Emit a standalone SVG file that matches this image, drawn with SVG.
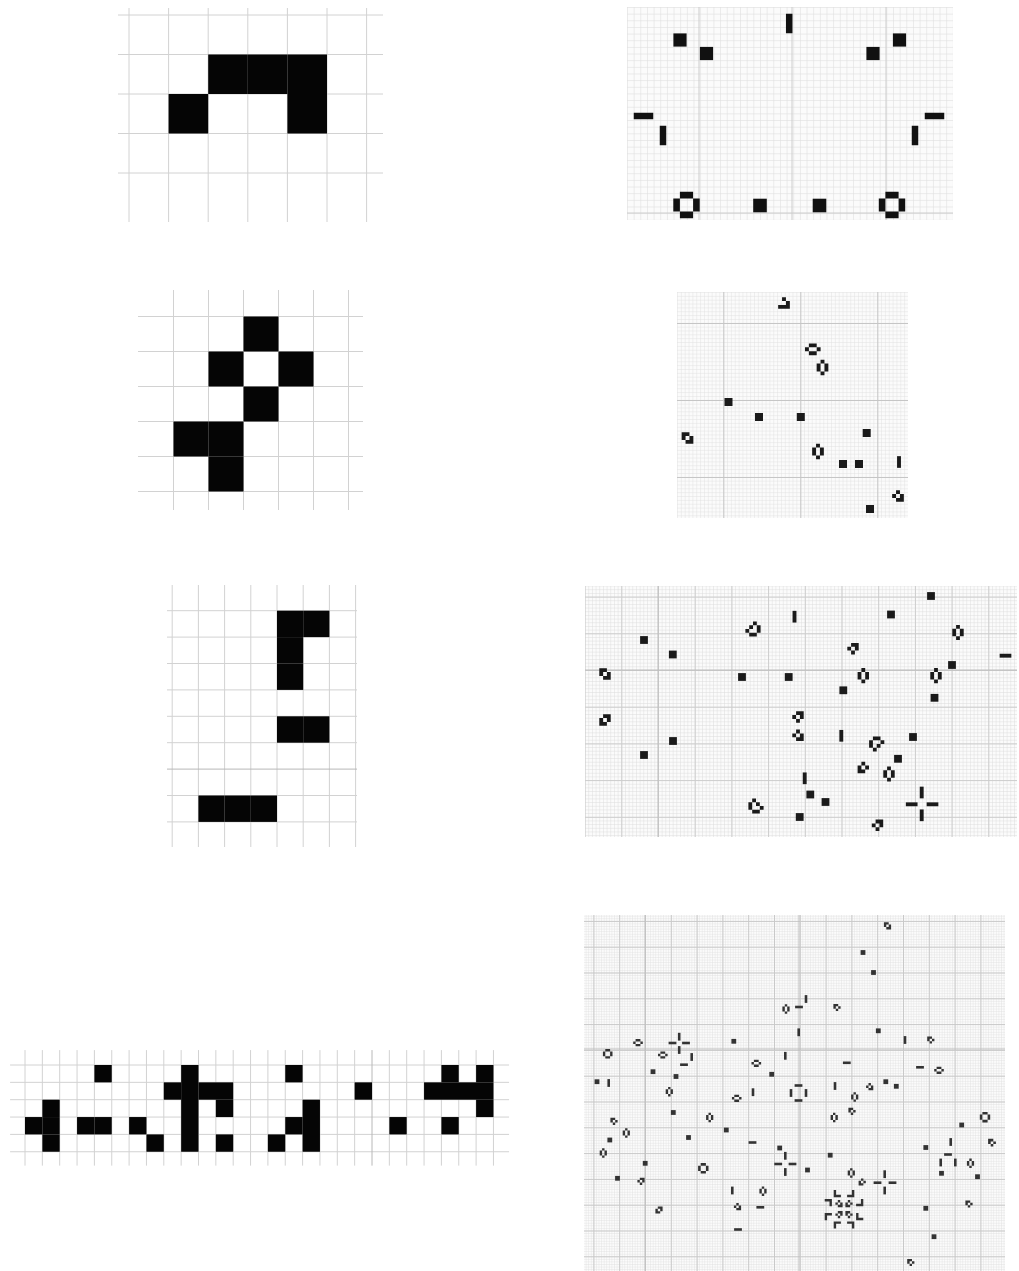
<svg xmlns="http://www.w3.org/2000/svg" xmlns:xlink="http://www.w3.org/1999/xlink" width="1019" height="1271" viewBox="0 0 1019 1271">
<style>
.gl{stroke:#d2d2d2;stroke-width:1;fill:none;vector-effect:non-scaling-stroke}
.gd{stroke:#b8b8b8;stroke-width:1;fill:none;vector-effect:non-scaling-stroke}
.cell{fill:#050505}
.bgp{fill:#fbfbfb}
.r1 use{fill:#111}
.r2 use{fill:#1a1a1a}
.r3 use{fill:#1a1a1a}
.r4 use{fill:#333}
</style>
<defs>
<path id="bk" d="M-1 -1h2v2h-2z"/>
<path id="bv" d="M-0.5 -1.5h1v3h-1z"/>
<path id="bh" d="M-1.5 -0.5h3v1h-3z"/>
<path id="hh" d="M-1 -1.5h2v1h-2zM-2 -0.5h1v1h-1zM1 -0.5h1v1h-1zM-1 0.5h2v1h-2z"/>
<path id="hv" d="M-0.5 -2h1v1h-1zM-1.5 -1h1v2h-1zM0.5 -1h1v2h-1zM-0.5 1h1v1h-1z"/>
<path id="pd" d="M-1 -2h2v1h-2zM-2 -1h1v2h-1zM1 -1h1v2h-1zM-1 1h2v1h-2z"/>
<path id="bt" d="M-1.5 -1.5h2v1h-2zM-1.5 -0.5h1v1h-1zM0.5 -0.5h1v1h-1zM-0.5 0.5h1v1h-1z"/>
<path id="gd" d="M-0.5 -1.5h1v1h-1zM0.5 -0.5h1v1h-1zM-1.5 0.5h3v1h-3z"/>
<path id="lf" d="M-1 -2h2v1h-2zM-2 -1h1v1h-1zM1 -1h1v2h-1zM-1 0h1v1h-1zM0 1h1v1h-1z"/>
<path id="sh" d="M-1.5 -1.5h2v1h-2zM-1.5 -0.5h1v1h-1zM0.5 -0.5h1v1h-1zM-0.5 0.5h2v1h-2z"/>
<path id="ll" d="M-1.5 -1.5h1v3h-1zM-0.5 0.5h2v1h-2z"/>
<pattern id="p1" x="627" y="7" width="6.65" height="6.65" patternUnits="userSpaceOnUse"><path d="M0 0.35H6.65M0.35 0V6.65" stroke="#dedede" stroke-width="0.7" fill="none"/></pattern>
<pattern id="p2" x="677" y="292" width="3.85" height="3.85" patternUnits="userSpaceOnUse"><path d="M0 0.3H3.85M0.3 0V3.85" stroke="#e0e0e0" stroke-width="0.6" fill="none"/></pattern>
<pattern id="m2" x="723.3" y="400" width="77" height="77" patternUnits="userSpaceOnUse"><path d="M0 0.5H77M0.5 0V77" stroke="#c6c6c6" stroke-width="1" fill="none"/></pattern>
<pattern id="p3" x="584.6" y="596.6" width="3.67" height="3.67" patternUnits="userSpaceOnUse"><path d="M0 0.3H3.67M0.3 0V3.67" stroke="#dddddd" stroke-width="0.6" fill="none"/></pattern>
<pattern id="m3" x="584.6" y="596.6" width="36.7" height="36.7" patternUnits="userSpaceOnUse"><path d="M0 0.5H36.7M0.5 0V36.7" stroke="#cdcdcd" stroke-width="1" fill="none"/></pattern>
<pattern id="p4" x="593.4" y="920.9" width="2.58" height="2.58" patternUnits="userSpaceOnUse"><path d="M0 0.25H2.58M0.25 0V2.58" stroke="#dcdcdc" stroke-width="0.5" fill="none"/></pattern>
<pattern id="m4" x="593.4" y="920.9" width="25.8" height="25.8" patternUnits="userSpaceOnUse"><path d="M0 0.5H25.8M0.5 0V25.8" stroke="#c9c9c9" stroke-width="1" fill="none"/></pattern>
</defs>
<rect width="1019" height="1271" fill="#ffffff"/>

<!-- Left panel 1 -->
<g id="left1">
<path class="gl" d="M118 15H383M118 54.5H383M118 94H383M118 133.5H383M118 173H383M129 8V222M168.6 8V222M208.2 8V222M247.8 8V222M287.4 8V222M327 8V222M366.6 8V222"/>
<g transform="translate(129 15) scale(39.6 39.5)" class="cell">
<rect x="2" y="1" width="1" height="1"/><rect x="3" y="1" width="1" height="1"/><rect x="4" y="1" width="1" height="1"/>
<rect x="1" y="2" width="1" height="1"/><rect x="4" y="2" width="1" height="1"/>
</g>
</g>

<!-- Left panel 2 -->
<g id="left2">
<path class="gl" d="M138 316.5H363M138 351.5H363M138 386.5H363M138 421.5H363M138 456.5H363M138 491.5H363M173.5 290V510M208.5 290V510M243.5 290V510M278.5 290V510M313.5 290V510M348.5 290V510"/>
<g transform="translate(173.5 316.5) scale(35)" class="cell">
<rect x="2" y="0" width="1" height="1"/><rect x="1" y="1" width="1" height="1"/><rect x="3" y="1" width="1" height="1"/>
<rect x="2" y="2" width="1" height="1"/><rect x="0" y="3" width="1" height="1"/><rect x="1" y="3" width="1" height="1"/>
<rect x="1" y="4" width="1" height="1"/>
</g>
</g>

<!-- Left panel 3 -->
<g id="left3">
<path class="gl" d="M167 610.7H357M167 637.1H357M167 663.5H357M167 689.9H357M167 716.3H357M167 742.7H357M167 795.5H357M167 821.9H357M172.2 585V847M198.4 585V847M224.6 585V847M250.8 585V847M277 585V847M303.2 585V847M329.4 585V847M355.6 585V847"/>
<path class="gd" d="M167 769.1H357"/>
<g transform="translate(172.2 610.7) scale(26.2 26.4)" class="cell">
<rect x="4" y="0" width="1" height="1"/><rect x="5" y="0" width="1" height="1"/>
<rect x="4" y="1" width="1" height="1"/><rect x="4" y="2" width="1" height="1"/>
<rect x="4" y="4" width="1" height="1"/><rect x="5" y="4" width="1" height="1"/>
<rect x="1" y="7" width="1" height="1"/><rect x="2" y="7" width="1" height="1"/><rect x="3" y="7" width="1" height="1"/>
</g>
</g>

<!-- Left panel 4 -->
<g id="left4">
<g transform="translate(25 1065) scale(17.35)">
<path class="gl" d="M-0.86 0H27.9M-0.86 1H27.9M-0.86 2H27.9M-0.86 3H27.9M-0.86 4H27.9M-0.86 5H27.9
M0 -0.86V5.8M1 -0.86V5.8M2 -0.86V5.8M3 -0.86V5.8M4 -0.86V5.8M5 -0.86V5.8M6 -0.86V5.8M7 -0.86V5.8M8 -0.86V5.8M9 -0.86V5.8M10 -0.86V5.8M11 -0.86V5.8M12 -0.86V5.8M13 -0.86V5.8M14 -0.86V5.8M15 -0.86V5.8M16 -0.86V5.8M17 -0.86V5.8M18 -0.86V5.8M19 -0.86V5.8M21 -0.86V5.8M22 -0.86V5.8M23 -0.86V5.8M24 -0.86V5.8M25 -0.86V5.8M26 -0.86V5.8M27 -0.86V5.8"/>
<path class="gd" d="M20 -0.86V5.8"/>
<g class="cell">
<rect x="1" y="2" width="1" height="1"/><rect x="0" y="3" width="1" height="1"/><rect x="1" y="3" width="1" height="1"/><rect x="1" y="4" width="1" height="1"/>
<rect x="4" y="0" width="1" height="1"/><rect x="3" y="3" width="1" height="1"/><rect x="4" y="3" width="1" height="1"/>
<rect x="6" y="3" width="1" height="1"/><rect x="7" y="4" width="1" height="1"/>
<rect x="9" y="0" width="1" height="5"/><rect x="8" y="1" width="1" height="1"/><rect x="10" y="1" width="2" height="1"/>
<rect x="11" y="2" width="1" height="1"/><rect x="11" y="4" width="1" height="1"/>
<rect x="15" y="0" width="1" height="1"/><rect x="16" y="2" width="1" height="3"/><rect x="15" y="3" width="1" height="1"/><rect x="14" y="4" width="1" height="1"/>
<rect x="19" y="1" width="1" height="1"/><rect x="21" y="3" width="1" height="1"/>
<rect x="24" y="0" width="1" height="1"/><rect x="26" y="0" width="1" height="1"/><rect x="23" y="1" width="4" height="1"/>
<rect x="26" y="2" width="1" height="1"/><rect x="24" y="3" width="1" height="1"/>
</g>
</g>
</g>

<!-- Right panel 1 -->
<g id="right1" class="r1">
<rect class="bgp" x="627" y="7" width="326" height="213"/>
<rect x="627" y="7" width="326" height="213" fill="url(#p1)"/>
<path d="M699 7V220M792 7V220M886 7V220M627 213H953" stroke="#cccccc" stroke-width="1" fill="none"/>
<use href="#bv" transform="translate(789.2 23.5) scale(6.5)"/>
<use href="#bk" transform="translate(680 40) scale(6.6)"/>
<use href="#bk" transform="translate(706.5 53.5) scale(6.6)"/>
<use href="#bk" transform="translate(873 53.5) scale(6.6)"/>
<use href="#bk" transform="translate(899.5 40) scale(6.6)"/>
<use href="#bh" transform="translate(643.5 116) scale(6.5)"/>
<use href="#bv" transform="translate(663 135.5) scale(6.5)"/>
<use href="#bh" transform="translate(934.5 116) scale(6.5)"/>
<use href="#bv" transform="translate(915 135.5) scale(6.5)"/>
<use href="#pd" transform="translate(686.5 205) scale(6.6)"/>
<use href="#pd" transform="translate(892 205) scale(6.6)"/>
<use href="#bk" transform="translate(760 205.5) scale(6.8)"/>
<use href="#bk" transform="translate(819.5 205.5) scale(6.8)"/>
</g>

<!-- Right panel 2 -->
<g id="right2" class="r2">
<rect class="bgp" x="677" y="292" width="231" height="226"/>
<rect x="677" y="292" width="231" height="226" fill="url(#p2)"/>
<rect x="677" y="292" width="231" height="226" fill="url(#m2)"/>
<use href="#gd" transform="translate(784 303) scale(3.9)"/>
<use href="#hh" transform="translate(812.8 349.3) scale(3.9)"/>
<use href="#hv" transform="translate(822.5 367.5) scale(3.9)"/>
<use href="#bk" transform="translate(728.5 402) scale(4)"/>
<use href="#bk" transform="translate(759 417) scale(4)"/>
<use href="#bk" transform="translate(800.8 417) scale(4)"/>
<use href="#bk" transform="translate(866.7 433) scale(4)"/>
<use href="#bk" transform="translate(843 464) scale(4)"/>
<use href="#bk" transform="translate(859 464) scale(4)"/>
<use href="#bk" transform="translate(870 509) scale(4)"/>
<use href="#sh" transform="translate(687.5 438) scale(3.9)"/>
<use href="#hv" transform="translate(818 451.5) scale(3.9)"/>
<use href="#bv" transform="translate(899 462) scale(3.9)"/>
<use href="#bt" transform="translate(898 496) rotate(180) scale(3.9)"/>
</g>

<!-- Right panel 3 -->
<g id="right3" class="r3">
<rect class="bgp" x="585" y="586" width="432" height="251"/>
<rect x="585" y="586" width="432" height="251" fill="url(#p3)"/>
<rect x="585" y="586" width="432" height="251" fill="url(#m3)"/>
<path d="M658 586V837M585 670H1017" stroke="#bdbdbd" stroke-width="1" fill="none"/>
<use href="#bk" transform="translate(644 640) scale(3.9)"/>
<use href="#bk" transform="translate(672.8 654.5) scale(3.9)"/>
<use href="#bk" transform="translate(742 677) scale(3.9)"/>
<use href="#bk" transform="translate(788.7 677) scale(3.9)"/>
<use href="#bk" transform="translate(673 741) scale(3.9)"/>
<use href="#bk" transform="translate(644 755) scale(3.9)"/>
<use href="#bk" transform="translate(931 596) scale(3.9)"/>
<use href="#bk" transform="translate(891 614.5) scale(3.9)"/>
<use href="#bk" transform="translate(952 665) scale(3.9)"/>
<use href="#bk" transform="translate(843.3 690.3) scale(3.9)"/>
<use href="#bk" transform="translate(934.5 697.8) scale(3.9)"/>
<use href="#bk" transform="translate(913 737) scale(3.9)"/>
<use href="#bk" transform="translate(898 758.8) scale(3.9)"/>
<use href="#bk" transform="translate(810.3 794.5) scale(3.9)"/>
<use href="#bk" transform="translate(825.5 802) scale(3.9)"/>
<use href="#bk" transform="translate(799.7 817) scale(3.9)"/>
<use href="#sh" transform="translate(605 674) scale(3.8)"/>
<use href="#sh" transform="translate(605 720) rotate(90) scale(3.8)"/>
<use href="#lf" transform="translate(753 629) rotate(90) scale(3.8)"/>
<use href="#bt" transform="translate(853 648.7) rotate(90) scale(3.8)"/>
<use href="#bt" transform="translate(798 717) rotate(90) scale(3.8)"/>
<use href="#bt" transform="translate(798 735.3) rotate(180) scale(3.8)"/>
<use href="#bt" transform="translate(863.3 767.5) rotate(-90) scale(3.8)"/>
<use href="#bt" transform="translate(877.5 825.3) rotate(90) scale(3.8)"/>
<use href="#lf" transform="translate(756 806) rotate(180) scale(3.8)"/>
<use href="#lf" transform="translate(876.7 744) rotate(-90) scale(3.8)"/>
<use href="#hv" transform="translate(958 632.5) scale(3.8)"/>
<use href="#hv" transform="translate(863.3 675.7) scale(3.8)"/>
<use href="#hv" transform="translate(936 675.7) scale(3.8)"/>
<use href="#hv" transform="translate(889 774) scale(3.8)"/>
<use href="#bv" transform="translate(794.5 616.7) scale(3.9)"/>
<use href="#bv" transform="translate(841.3 735.8) scale(3.9)"/>
<use href="#bv" transform="translate(804.7 778.3) scale(3.9)"/>
<use href="#bv" transform="translate(921.7 792.5) scale(3.9)"/>
<use href="#bv" transform="translate(921.7 815.3) scale(3.9)"/>
<use href="#bh" transform="translate(1005.5 655.7) scale(3.9)"/>
<use href="#bh" transform="translate(911.7 804.3) scale(3.9)"/>
<use href="#bh" transform="translate(932.5 804.3) scale(3.9)"/>
</g>

<!-- Right panel 4 -->
<g id="right4" class="r4">
<rect class="bgp" x="584" y="915" width="421" height="356"/>
<rect x="584" y="915" width="421" height="356" fill="url(#p4)"/>
<rect x="584" y="915" width="421" height="356" fill="url(#m4)"/>
<path d="M645 915V1271M799 915V1271M584 1049H1005" stroke="#bdbdbd" stroke-width="1" fill="none"/>
<!-- blocks -->
<use href="#bk" transform="translate(733.8 1041.3) scale(2.4)"/>
<use href="#bk" transform="translate(771.7 1074.3) scale(2.4)"/>
<use href="#bk" transform="translate(653 1071.7) scale(2.4)"/>
<use href="#bk" transform="translate(676 1076.5) scale(2.4)"/>
<use href="#bk" transform="translate(597 1081.7) scale(2.4)"/>
<use href="#bk" transform="translate(863 952.5) scale(2.4)"/>
<use href="#bk" transform="translate(873.5 972.5) scale(2.4)"/>
<use href="#bk" transform="translate(878.3 1030.8) scale(2.4)"/>
<use href="#bk" transform="translate(885.8 1081.7) scale(2.4)"/>
<use href="#bk" transform="translate(896.3 1086.3) scale(2.4)"/>
<use href="#bk" transform="translate(673.3 1112.5) scale(2.4)"/>
<use href="#bk" transform="translate(726.3 1130) scale(2.4)"/>
<use href="#bk" transform="translate(688.5 1137.5) scale(2.4)"/>
<use href="#bk" transform="translate(609.8 1140) scale(2.4)"/>
<use href="#bk" transform="translate(779.7 1148) scale(2.4)"/>
<use href="#bk" transform="translate(645.2 1163.3) scale(2.4)"/>
<use href="#bk" transform="translate(617.5 1178.3) scale(2.4)"/>
<use href="#bk" transform="translate(961.7 1125) scale(2.4)"/>
<use href="#bk" transform="translate(925.8 1147.5) scale(2.4)"/>
<use href="#bk" transform="translate(830.2 1155.2) scale(2.4)"/>
<use href="#bk" transform="translate(807.5 1170) scale(2.4)"/>
<use href="#bk" transform="translate(941.5 1173.3) scale(2.4)"/>
<use href="#bk" transform="translate(977.5 1176.7) scale(2.4)"/>
<use href="#bk" transform="translate(925.8 1208.3) scale(2.4)"/>
<use href="#bk" transform="translate(934 1236.7) scale(2.4)"/>
<!-- beehives -->
<use href="#hv" transform="translate(786 1009) scale(2.4)"/>
<use href="#hv" transform="translate(669.3 1091.7) scale(2.4)"/>
<use href="#hv" transform="translate(709.7 1117.5) scale(2.4)"/>
<use href="#hv" transform="translate(626.3 1133) scale(2.4)"/>
<use href="#hv" transform="translate(603.3 1153) scale(2.4)"/>
<use href="#hv" transform="translate(763 1191.2) scale(2.4)"/>
<use href="#hv" transform="translate(854.7 1097) scale(2.4)"/>
<use href="#hv" transform="translate(834.2 1117.5) scale(2.4)"/>
<use href="#hv" transform="translate(851.3 1173) scale(2.4)"/>
<use href="#hv" transform="translate(970.5 1163.3) scale(2.4)"/>
<use href="#hh" transform="translate(638 1042.7) scale(2.4)"/>
<use href="#hh" transform="translate(662.8 1055) scale(2.4)"/>
<use href="#hh" transform="translate(756.3 1063.3) scale(2.4)"/>
<use href="#hh" transform="translate(939 1070.3) scale(2.4)"/>
<use href="#hh" transform="translate(736.7 1098.3) scale(2.4)"/>
<!-- ponds -->
<use href="#pd" transform="translate(607.7 1053.8) scale(2.4)"/>
<use href="#pd" transform="translate(703.3 1168.3) scale(2.6)"/>
<use href="#pd" transform="translate(985 1117.2) scale(2.6)"/>
<!-- boats -->
<use href="#sh" transform="translate(887.5 925.8) scale(2.4)"/>
<use href="#bt" transform="translate(837 1007.5) scale(2.4)"/>
<use href="#bt" transform="translate(930.8 1040) scale(2.4)"/>
<use href="#bt" transform="translate(869.7 1086.7) rotate(180) scale(2.4)"/>
<use href="#bt" transform="translate(614 1121.3) scale(2.4)"/>
<use href="#bt" transform="translate(641 1181.3) rotate(90) scale(2.4)"/>
<use href="#bt" transform="translate(737.5 1206.7) rotate(180) scale(2.4)"/>
<use href="#sh" transform="translate(659 1210) rotate(90) scale(2.4)"/>
<use href="#bt" transform="translate(852 1111.3) scale(2.4)"/>
<use href="#bt" transform="translate(862.2 1182) rotate(-90) scale(2.4)"/>
<use href="#bt" transform="translate(992 1142.7) scale(2.6)"/>
<use href="#bt" transform="translate(969 1204) scale(2.4)"/>
<use href="#bt" transform="translate(910.8 1262.5) scale(2.4)"/>
<!-- blinkers -->
<use href="#bh" transform="translate(799 1007) scale(2.6)"/>
<use href="#bh" transform="translate(684 1064.7) scale(2.6)"/>
<use href="#bh" transform="translate(846.8 1062.8) scale(2.6)"/>
<use href="#bh" transform="translate(920 1067.3) scale(2.6)"/>
<use href="#bh" transform="translate(752.5 1142.5) scale(2.6)"/>
<use href="#bh" transform="translate(760.3 1207.3) scale(2.6)"/>
<use href="#bh" transform="translate(738 1229.5) scale(2.6)"/>
<use href="#bv" transform="translate(806 999) scale(2.6)"/>
<use href="#bv" transform="translate(798.7 1032.3) scale(2.6)"/>
<use href="#bv" transform="translate(691.7 1057) scale(2.6)"/>
<use href="#bv" transform="translate(785.3 1055.8) scale(2.6)"/>
<use href="#bv" transform="translate(608.7 1083) scale(2.6)"/>
<use href="#bv" transform="translate(905 1040) scale(2.6)"/>
<use href="#bv" transform="translate(835 1086) scale(2.6)"/>
<use href="#bv" transform="translate(753 1092.2) scale(2.6)"/>
<use href="#bv" transform="translate(732.3 1190.5) scale(2.6)"/>
<!-- traffic lights -->
<use href="#bv" transform="translate(679.2 1036.7) scale(2.6)"/>
<use href="#bv" transform="translate(679.2 1050) scale(2.6)"/>
<use href="#bh" transform="translate(672.5 1043) scale(2.6)"/>
<use href="#bh" transform="translate(686 1043) scale(2.6)"/>
<use href="#bv" transform="translate(785.3 1155.8) scale(2.6)"/>
<use href="#bv" transform="translate(785.3 1172) scale(2.6)"/>
<use href="#bh" transform="translate(778.2 1164) scale(2.6)"/>
<use href="#bh" transform="translate(792.5 1164) scale(2.6)"/>
<use href="#bv" transform="translate(884.7 1174.2) scale(2.6)"/>
<use href="#bv" transform="translate(884.7 1190.5) scale(2.6)"/>
<use href="#bh" transform="translate(877.5 1182.7) scale(2.6)"/>
<use href="#bh" transform="translate(892.5 1182.7) scale(2.6)"/>
<!-- ring -->
<use href="#bv" transform="translate(791 1093) scale(2.6)"/>
<use href="#bv" transform="translate(806 1093) scale(2.6)"/>
<use href="#bh" transform="translate(798.5 1085.5) scale(2.6)"/>
<use href="#bh" transform="translate(798.5 1100.5) scale(2.6)"/>
<!-- cluster E -->
<use href="#bv" transform="translate(950.7 1142) scale(2.6)"/>
<use href="#bh" transform="translate(948 1154.5) scale(2.6)"/>
<use href="#bv" transform="translate(940.7 1162.5) scale(2.6)"/>
<use href="#bv" transform="translate(955.3 1162.5) scale(2.6)"/>
<!-- cluster F -->
<use href="#bt" transform="translate(839 1203.6) rotate(180) scale(2.4)"/>
<use href="#bt" transform="translate(849 1203.6) rotate(-90) scale(2.4)"/>
<use href="#bt" transform="translate(839 1214.6) rotate(90) scale(2.4)"/>
<use href="#bt" transform="translate(849 1214.6) scale(2.4)"/>
<use href="#ll" transform="translate(837.3 1193.6) scale(2.4)"/>
<use href="#ll" transform="translate(850.7 1193.6) scale(-2.4 2.4)"/>
<use href="#ll" transform="translate(837.3 1225) scale(2.4 -2.4)"/>
<use href="#ll" transform="translate(850.7 1225) scale(-2.4 -2.4)"/>
<use href="#ll" transform="translate(828.3 1202.6) rotate(90) scale(2.4 -2.4)"/>
<use href="#ll" transform="translate(859.7 1202.6) rotate(-90) scale(2.4)"/>
<use href="#ll" transform="translate(828.3 1216.6) rotate(90) scale(2.4)"/>
<use href="#ll" transform="translate(859.7 1216.6) rotate(-90) scale(2.4 -2.4)"/>
</g>
</svg>
